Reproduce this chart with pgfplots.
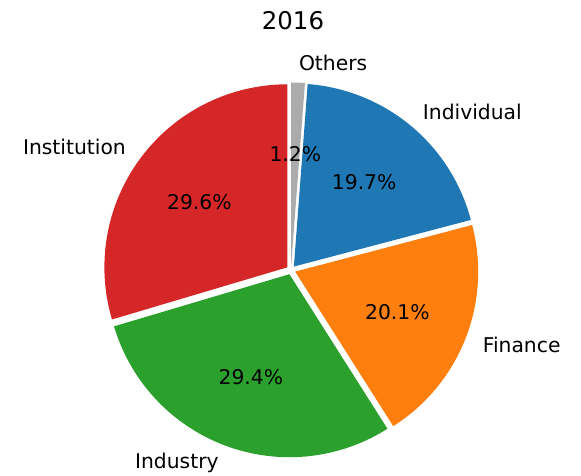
\documentclass[border=0pt]{standalone}
\usepackage{pgfplots}
\pgfplotsset{compat=1.18}
\usepackage{fontspec}
\setmainfont{DejaVu Sans}
\definecolor{tabblue}{HTML}{1F77B4}
\definecolor{taborange}{HTML}{FF7F0E}
\definecolor{tabgreen}{HTML}{2CA02C}
\definecolor{tabred}{HTML}{D62728}
\definecolor{othgray}{HTML}{ABABAB}
\begin{document}
\begin{tikzpicture}[lab/.style={font=\fontsize{20.3}{24}\selectfont, inner sep=0pt}]
\begin{axis}[
  scale only axis, width=581pt, height=476pt,
  xmin=0, xmax=581, ymin=0, ymax=476,
  hide axis, clip=false,
]
\path[draw=none] (axis cs:0,0) rectangle (axis cs:581,476);
% shares (%): Others 1.2, Individual 19.7, Finance 20.1, Industry 29.4, Institution 29.6
% clockwise from 90 deg, every wedge exploded by 4.5 px, radius 183 px
\addplot[fill=othgray, draw=none, domain=85.68:90, samples=10]
  ({291.17+183*cos(x)}, {210.50+183*sin(x)}) -- (axis cs:291.17,210.50) -- cycle;
\addplot[fill=tabblue, draw=none, domain=14.76:85.68, samples=80]
  ({293.88+183*cos(x)}, {209.46+183*sin(x)}) -- (axis cs:293.88,209.46) -- cycle;
\addplot[fill=taborange, draw=none, domain=-57.6:14.76, samples=80]
  ({295.19+183*cos(x)}, {204.36+183*sin(x)}) -- (axis cs:295.19,204.36) -- cycle;
\addplot[fill=tabgreen, draw=none, domain=-163.44:-57.6, samples=100]
  ({289.42+183*cos(x)}, {201.79+183*sin(x)}) -- (axis cs:289.42,201.79) -- cycle;
\addplot[fill=tabred, draw=none, domain=-270:-163.44, samples=100]
  ({287.39+183*cos(x)}, {208.69+183*sin(x)}) -- (axis cs:287.39,208.69) -- cycle;
% category labels
\node[lab, anchor=west] at (axis cs:298.8,413.5) {Others};
\node[lab, anchor=west] at (axis cs:422.7,364.2) {Individual};
\node[lab, anchor=west] at (axis cs:482.6,130.9) {Finance};
\node[lab, anchor=east] at (axis cs:218.8,13.3) {Industry};
\node[lab, anchor=east] at (axis cs:126.0,329.0) {Institution};
% percentages
\node[lab] at (axis cs:295.3,322.0) {1.2\%};
\node[lab] at (axis cs:364.2,293.9) {19.7\%};
\node[lab] at (axis cs:397.4,164.3) {20.1\%};
\node[lab] at (axis cs:250.9,99.0) {29.4\%};
\node[lab] at (axis cs:199.4,274.3) {29.6\%};
% title
\node[font=\fontsize{24.4}{29}\selectfont, inner sep=0pt] at (axis cs:293,455) {2016};
\end{axis}
\end{tikzpicture}
\end{document}
